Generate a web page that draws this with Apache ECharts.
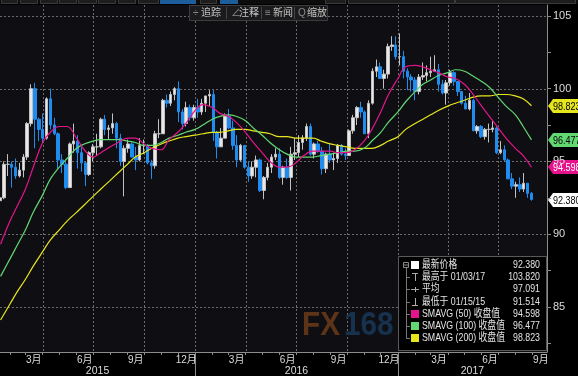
<!DOCTYPE html>
<html>
<head>
<meta charset="utf-8">
<title>美元指数</title>
<script src="https://cdn.jsdelivr.net/npm/echarts@6.0.0/dist/echarts.min.js"></script>
<style>
	html, body { margin: 0; padding: 0; background: #000; }
	#ct1 { width: 578px; height: 376px; }
</style>
</head>
<body>
<div id="ct1"></div>
<script>
// weekly bars, first one is the week of 2015-01-14 (wednesday)
var weekStart = '2015-01-14';
var weekOpen = [92.3,92.5,94.8,94.8,94.6,94.0,94.4,95.3,97.6,100.0,
	97.9,97.2,96.6,99.3,97.5,96.9,95.1,94.8,93.2,96.2,
	96.4,95.6,94.9,94.1,95.6,96.0,96.0,97.9,97.2,97.3,
	97.6,96.6,95.0,95.9,96.2,95.3,95.1,96.1,96.1,94.9,
	94.7,96.9,96.9,99.2,99.0,99.6,100.0,98.4,97.6,98.7,
	98.0,98.7,98.4,99.0,99.5,99.6,97.0,96.0,96.6,98.1,
	97.3,96.1,95.1,96.1,94.6,94.0,94.6,95.1,93.0,93.9,
	94.6,95.3,95.5,93.9,94.6,93.9,95.5,95.6,96.3,96.6,
	97.4,95.5,96.2,95.7,94.5,95.5,95.1,95.2,96.1,95.5,
	95.4,97.1,98.0,98.7,98.4,96.9,99.0,101.2,101.5,100.7,
	101.0,102.9,103.0,102.2,102.2,101.2,100.8,100.6,99.8,100.8,
	100.9,101.1,101.2,101.3,100.3,99.7,100.4,101.1,100.5,99.8,
	99.0,98.6,99.2,97.1,97.4,96.7,97.2,97.2,97.3,95.6,
	95.8,95.1,93.8,93.3,93.4,93.1,93.5,92.8];
var weekClose = [92.5,94.8,94.8,94.6,94.0,94.4,95.3,97.6,100.0,97.9,
	97.2,96.6,99.3,97.5,96.9,95.1,94.8,93.2,96.2,96.4,
	95.6,94.9,94.1,95.6,96.0,96.0,97.9,97.2,97.3,97.6,
	96.6,95.0,95.9,96.2,95.3,95.1,96.1,96.1,94.9,94.7,
	96.9,96.9,99.2,99.0,99.6,100.0,98.4,97.6,98.7,98.0,
	98.7,98.4,99.0,99.5,99.6,97.0,96.0,96.6,98.1,97.3,
	96.1,95.1,96.1,94.6,94.0,94.6,95.1,93.0,93.9,94.6,
	95.3,95.5,93.9,94.6,93.9,95.5,95.6,96.3,96.6,97.4,
	95.5,96.2,95.7,94.5,95.5,95.1,95.2,96.1,95.5,95.4,
	97.1,98.0,98.7,98.4,96.9,99.0,101.2,101.5,100.7,101.0,
	102.9,103.0,102.2,102.2,101.2,100.8,100.6,99.8,100.8,100.9,
	101.1,101.2,101.3,100.3,99.7,100.4,101.1,100.5,99.8,99.0,
	98.6,99.2,97.1,97.4,96.7,97.2,97.2,97.3,95.6,95.8,
	95.1,93.8,93.3,93.4,93.1,93.5,92.8,92.38];
var weekLow = [91.5,92.4,94.0,93.2,93.8,93.9,93.9,95.1,97.4,95.9,
	96.4,96.3,96.5,97.2,96.8,94.5,94.2,93.1,93.2,95.6,
	94.5,94.3,93.3,94.0,95.0,95.4,95.9,96.8,96.5,96.9,
	95.9,94.7,92.6,95.6,95.3,94.4,95.0,95.5,94.8,93.8,
	94.5,96.6,96.9,98.7,98.8,99.2,97.7,97.2,97.4,97.8,
	97.8,98.0,98.2,98.4,98.8,96.4,95.2,96.0,96.6,97.2,
	95.8,94.6,95.0,94.5,93.6,93.8,93.9,92.9,92.4,93.7,
	94.2,95.1,93.8,93.4,93.8,93.0,95.1,95.3,95.8,96.4,
	95.4,95.2,95.6,94.1,94.2,94.9,94.4,94.9,95.4,95.1,
	95.4,96.9,97.5,98.0,96.9,96.6,98.9,100.8,100.7,100.0,
	100.7,102.6,102.0,101.6,100.7,99.9,99.8,99.2,99.6,100.6,
	100.5,100.8,101.2,99.8,99.6,98.9,100.2,100.2,99.5,98.9,
	98.6,98.5,97.1,96.9,96.6,96.5,96.3,97.0,95.5,95.5,
	95.0,93.8,93.1,92.5,92.9,92.9,92.5,92.3];
var weekHigh = [92.9,95.0,95.5,95.0,95.2,94.9,95.5,97.7,100.3,100.4,
	98.0,98.3,99.4,100.0,98.0,97.0,95.5,95.0,96.3,97.6,
	96.8,96.0,95.0,95.7,96.2,96.9,98.0,98.2,97.5,98.3,
	97.7,96.9,96.1,96.5,96.3,96.0,96.6,96.5,96.2,95.1,
	97.1,97.9,99.3,99.6,99.8,100.1,100.5,98.6,99.1,98.9,
	98.9,99.3,99.3,99.5,99.9,99.9,97.1,97.3,98.3,98.6,
	97.8,96.8,96.2,96.0,95.0,95.0,95.4,95.2,94.0,94.9,
	95.5,95.9,95.9,94.7,95.2,96.0,96.6,96.8,96.8,97.6,
	97.6,96.3,96.4,96.0,95.6,96.2,95.6,96.2,96.2,95.9,
	97.2,98.2,98.8,99.1,98.5,99.2,101.4,102.0,101.8,101.3,
	103.1,103.6,103.6,103.8,102.6,101.4,101.0,100.8,101.0,101.8,
	101.6,102.2,102.3,101.7,100.6,100.6,101.3,101.2,100.5,99.8,
	99.5,99.7,99.3,97.5,97.5,97.3,97.6,97.8,97.4,96.4,
	96.1,95.2,94.2,93.6,93.9,94.2,93.5,92.9];

// moving averages, twice a month
var maDates = ['2015-01-15','2015-02-01','2015-02-15','2015-03-01','2015-03-15','2015-04-01','2015-04-15','2015-05-01','2015-05-15','2015-06-01','2015-06-15','2015-07-01','2015-07-15','2015-08-01','2015-08-15','2015-09-01','2015-09-15','2015-10-01','2015-10-15','2015-11-01','2015-11-15','2015-12-01','2015-12-15',
	'2016-01-01','2016-01-15','2016-02-01','2016-02-15','2016-03-01','2016-03-15','2016-04-01','2016-04-15','2016-05-01','2016-05-15','2016-06-01','2016-06-15','2016-07-01','2016-07-15','2016-08-01','2016-08-15','2016-09-01','2016-09-15','2016-10-01','2016-10-15','2016-11-01','2016-11-15','2016-12-01','2016-12-15',
	'2017-01-01','2017-01-15','2017-02-01','2017-02-15','2017-03-01','2017-03-15','2017-04-01','2017-04-15','2017-05-01','2017-05-15','2017-06-01','2017-06-15','2017-07-01','2017-07-15','2017-08-01','2017-08-15','2017-08-30'];
var sma50 = [89.3,90.9,92.0,93.1,94.6,96.3,97.0,97.4,97.4,96.6,95.8,95.3,95.6,96.0,96.3,96.6,96.6,96.2,95.9,95.8,96.5,97.0,97.6,
	98.5,98.9,98.7,98.3,98.1,97.7,97.0,96.3,95.6,95.0,94.6,94.6,94.9,95.4,95.7,95.7,95.7,95.6,95.6,95.8,96.4,97.2,98.4,99.6,
	100.7,101.5,101.6,101.5,101.3,101.1,100.8,100.7,100.3,99.7,98.8,98.1,97.3,96.6,95.9,95.4,94.598];
var sma100 = [87.1,88.3,89.3,90.3,91.5,92.7,93.8,94.6,95.2,95.9,96.2,96.4,96.5,96.5,96.5,96.4,96.3,96.1,96.1,96.3,96.6,96.8,97.0,
	97.2,97.5,97.9,98.1,98.2,98.1,97.8,97.3,96.8,96.3,95.8,95.5,95.3,95.3,95.3,95.4,95.5,95.6,95.7,95.7,95.9,96.4,97.0,97.7,
	98.4,99.1,99.8,100.3,100.6,100.9,101.1,101.3,101.2,100.9,100.5,100.1,99.4,98.8,98.2,97.4,96.477];
var sma200 = [84.1,85.2,86.1,86.9,87.8,88.8,89.6,90.3,90.9,91.5,92.0,92.6,93.1,93.7,94.2,94.8,95.3,95.6,95.9,96.2,96.4,96.6,96.7,
	96.8,96.9,97.0,97.0,97.1,97.2,97.2,97.1,97.0,96.9,96.7,96.7,96.6,96.6,96.6,96.4,96.2,96.1,96.0,95.9,95.9,95.9,96.1,96.4,
	96.7,97.2,97.6,97.9,98.2,98.5,98.8,99.0,99.2,99.4,99.5,99.5,99.6,99.6,99.5,99.3,98.823];

var statHigh = 103.82, statHighDate = '01/03/17';
var statAvg = 97.091;
var statLow = 91.514, statLowDate = '01/15/15';

var yLabels = [85, 90, 95, 100, 105];
var yTicks = [82.5, 85, 87.5, 90, 92.5, 95, 97.5, 100, 102.5, 105];
var axisMin = '2015-01-14', axisMax = '2017-09-27';
var yMin = 81.9, yMax = 105.75;

var colUp = '#e8e8e8', colDown = '#1f8cf0';
var col50 = '#e5148c', col100 = '#62d872', col200 = '#e6e61e';
var numFont = "'Liberation Sans Narrow', 'Liberation Sans', 'Noto Sans CJK SC', sans-serif";
var cjkFont = numFont;

var myChart1;

function dayOf(y, m, d) {
	return new Date(y, m, d).getTime();
}
function parseDay(s) {
	var p = s.split('-');
	return dayOf(+p[0], +p[1] - 1, +p[2]);
}
function candleData() {
	var p = weekStart.split('-');
	var out = [];
	for (var i = 0; i < weekClose.length; i++) {
		var t = dayOf(+p[0], +p[1] - 1, +p[2] + 7 * i);
		out.push([t, weekOpen[i], weekClose[i], weekLow[i], weekHigh[i]]);
	}
	return out;
}
function maData(arr) {
	var out = [];
	for (var i = 0; i < arr.length; i++) {
		out.push([parseDay(maDates[i]), arr[i]]);
	}
	return out;
}
function monthTicks() {
	var out = [];
	for (var m = 1; m <= 32; m++) out.push(dayOf(2015, m, 1));
	return out;
}
function quarterLines() {
	var out = [];
	for (var m = 3; m <= 30; m += 3) out.push(dayOf(2015, m, 1));
	return out;
}
function monthLabels() {
	var out = [];
	for (var m = 2; m <= 32; m += 3) out.push(dayOf(2015, m, 16));
	return out;
}
function yearLabels() {
	var a = parseDay(axisMin), b = parseDay(axisMax);
	var y16 = dayOf(2016, 0, 1), y17 = dayOf(2017, 0, 1);
	return [(a + y16) / 2, (y16 + y17) / 2, (y17 + b) / 2];
}

var tagValues = [weekClose[weekClose.length - 1], sma50[sma50.length - 1], sma100[sma100.length - 1], sma200[sma200.length - 1]];
var tagFill = ['#ffffff', col50, col100, col200];
var tagText = ['#000', '#fff', '#000', '#000'];

function txt(x, y, s, opt) {
	opt = opt || {};
	return {
		type: 'text', x: x, y: y, scaleX: opt.scaleX || 0.8,
		style: {text: s, fill: opt.fill || '#e4e4e4', fontSize: opt.fontSize || 11, fontWeight: opt.fontWeight || 'normal',
			fontFamily: cjkFont, align: opt.align || 'left', verticalAlign: 'middle'}
	};
}
function seg(x1, y1, x2, y2, c, dash) {
	return {type: 'line', shape: {x1: x1, y1: y1, x2: x2, y2: y2}, style: {stroke: c || '#aaa', lineWidth: 1, lineDash: dash || null}};
}

function buildGraphic() {
	var g = [];
	// dotted grid, placed through the axis scales
	var rect = myChart1.getModel().getComponent('grid').coordinateSystem.getRect();
	for (var a = 0; a < yLabels.length; a++) {
		var gy = Math.round(myChart1.convertToPixel({yAxisIndex: 0}, yLabels[a])) + 0.5;
		g.push(seg(rect.x, gy, rect.x + rect.width, gy, '#6a6a6a', [2, 2]));
	}
	var q = quarterLines();
	for (var b = 0; b < q.length; b++) {
		var gx = Math.round(myChart1.convertToPixel({xAxisIndex: 0}, q[b])) + 0.5;
		g.push(seg(gx, rect.y, gx, rect.y + rect.height, '#6a6a6a', [2, 2]));
	}

	// top button strip (cut off)
	g.push({type: 'rect', shape: {x: 0, y: 0, width: 578, height: 4}, style: {fill: '#0c0c0c'}});
	var boxes = [[1, 16], [20, 17], [40, 17], [59, 17], [78, 18], [98, 17], [118, 17], [138, 20], [200, 16], [325, 20], [348, 106], [455, 120]];
	for (var i = 0; i < boxes.length; i++) {
		g.push({type: 'rect', shape: {x: boxes[i][0] + 0.5, y: -1, width: boxes[i][1], height: 4.5}, style: {fill: '#1d1d1d', stroke: '#3a3a3a', lineWidth: 1}});
	}
	g.push({type: 'rect', shape: {x: 160, y: 0, width: 36, height: 4}, style: {fill: '#1d5d9b'}});
	g.push({type: 'rect', shape: {x: 220, y: 0, width: 18, height: 4}, style: {fill: '#1d5d9b'}});

	// floating tool bar
	g.push({type: 'rect', shape: {x: 189.5, y: 5.5, width: 138, height: 15}, style: {fill: '#1b1b1d', stroke: '#3c3c3c', lineWidth: 1}});
	var tools = [['追踪', 201, '÷', 193], ['注释', 239, '∠', 231], ['新闻', 273, '≡', 265], ['缩放', 307, 'Q', 298]];
	for (var j = 0; j < tools.length; j++) {
		g.push(txt(tools[j][3], 13, tools[j][2], {fill: '#8a8a8a', fontSize: 10, scaleX: 1}));
		g.push(txt(tools[j][1], 13, tools[j][0], {fill: '#c4c4c4', fontSize: 10, scaleX: 1}));
	}
	var seps = [226, 261, 294];
	for (var s = 0; s < seps.length; s++) {
		g.push(seg(seps[s] + 0.5, 7, seps[s] + 0.5, 19, '#444'));
	}

	// watermark
	g.push(txt(302, 326, 'FX', {fill: '#5e3418', fontSize: 33, fontWeight: 'bold', scaleX: 0.9}));
	g.push(txt(344, 326, '168', {fill: '#17324f', fontSize: 33, fontWeight: 'bold', scaleX: 0.9}));

	// legend box
	g.push({type: 'rect', shape: {x: 398.5, y: 256.5, width: 148, height: 94}, style: {fill: '#000', stroke: '#5a5a5a', lineWidth: 1}});
	var rows = [
		{icon: 'box', color: '#ffffff', text: '最新价格', value: tagValues[0]},
		{icon: 'high', text: '最高于 ' + statHighDate, value: statHigh},
		{icon: 'avg', text: '平均', value: statAvg},
		{icon: 'low', text: '最低于 ' + statLowDate, value: statLow},
		{icon: 'box', color: col50, text: 'SMAVG (50) 收盘值', value: tagValues[1]},
		{icon: 'box', color: col100, text: 'SMAVG (100) 收盘值', value: tagValues[2]},
		{icon: 'box', color: col200, text: 'SMAVG (200) 收盘值', value: tagValues[3]}
	];
	g.push({type: 'rect', shape: {x: 403.5, y: 262.5, width: 5, height: 5}, style: {fill: 'none', stroke: '#888', lineWidth: 1}});
	g.push(seg(404, 265, 408, 265, '#888'));
	g.push(seg(406.5, 268, 406.5, 338.5, '#777'));
	for (var r = 0; r < rows.length; r++) {
		var y = Math.round(265 + r * 12.2);
		var row = rows[r];
		if (r > 0) g.push(seg(406, y + 0.5, 410, y + 0.5, '#777'));
		if (row.icon === 'box') {
			g.push({type: 'rect', shape: {x: 411, y: y - 4, width: 8, height: 8}, style: {fill: row.color}});
		} else if (row.icon === 'high') {
			g.push(seg(412, y - 3.5, 418, y - 3.5));
			g.push(seg(415.5, y - 4, 415.5, y + 4));
		} else if (row.icon === 'avg') {
			g.push(seg(411, y + 0.5, 419, y + 0.5));
			g.push(seg(415.5, y - 2, 415.5, y + 3));
		} else {
			g.push(seg(415.5, y - 4, 415.5, y + 4));
			g.push(seg(412, y + 3.5, 418, y + 3.5));
		}
		g.push(txt(422, y, row.text));
		g.push(txt(540, y, row.value.toFixed(3), {align: 'right'}));
	}

	// price tags on the right, placed through the y axis scale
	for (var k = 0; k < tagValues.length; k++) {
		var py = Math.round(myChart1.convertToPixel({yAxisIndex: 0}, tagValues[k]));
		g.push({type: 'group', x: 548, y: py, children: [
			{type: 'polygon', shape: {points: [[0, 0], [5, -7], [30, -7], [30, 7], [5, 7]]}, style: {fill: tagFill[k]}},
			txt(5, 0.5, tagValues[k].toFixed(3), {fill: tagText[k], scaleX: 0.82})
		]});
	}
	return g;
}

var option1 = {
	backgroundColor: '#000',
	animation: false,
	grid: {left: 0, right: 31, top: 5, bottom: 24, show: true, backgroundColor: '#0f0f13', borderWidth: 0, containLabel: false, outerBoundsMode: 'none'},
	xAxis: [{
		type: 'value', position: 'bottom', min: parseDay(axisMin), max: parseDay(axisMax),
		axisLine: {show: true, lineStyle: {color: '#8c8c8c', width: 1}},
		axisTick: {show: true, customValues: monthTicks(), length: 3, lineStyle: {color: '#8c8c8c'}},
		axisLabel: {customValues: monthLabels(), color: '#dcdcdc', fontSize: 10, fontFamily: cjkFont, margin: 3,
			formatter: function (v) { return (new Date(v).getMonth() + 1) + '月'; }},
		splitLine: {show: false}
	}, {
		type: 'value', position: 'bottom', min: parseDay(axisMin), max: parseDay(axisMax),
		axisLine: {show: false},
		axisTick: {show: true, customValues: [dayOf(2016, 0, 1), dayOf(2017, 0, 1)], length: 24, lineStyle: {color: '#8c8c8c'}},
		axisLabel: {customValues: yearLabels(), color: '#dcdcdc', fontSize: 10.5, fontFamily: numFont, margin: 14,
			formatter: function (v) { return String(new Date(v).getFullYear()); }},
		splitLine: {show: false}
	}],
	yAxis: [{
		type: 'value', position: 'right', min: yMin, max: yMax,
		axisLine: {show: true, lineStyle: {color: '#8c8c8c', width: 1}},
		axisTick: {show: true, customValues: yTicks, length: 4, lineStyle: {color: '#8c8c8c'}},
		axisLabel: {customValues: yLabels, color: '#dcdcdc', fontSize: 11, fontFamily: numFont, margin: 6},
		splitLine: {show: false}
	}],
	series: [{
		name: '价格', type: 'candlestick', data: candleData(), encode: {x: 0, y: [1, 2, 3, 4]},
		barWidth: 3, z: 3,
		itemStyle: {color: colUp, color0: colDown, borderColor: '#c2c2c2', borderColor0: colDown, borderWidth: 1}
	}, {
		name: 'SMAVG (200)', type: 'line', data: maData(sma200), showSymbol: false, smooth: 0.4, z: 4,
		lineStyle: {color: col200, width: 1.2}
	}, {
		name: 'SMAVG (100)', type: 'line', data: maData(sma100), showSymbol: false, smooth: 0.4, z: 4,
		lineStyle: {color: col100, width: 1.2}
	}, {
		name: 'SMAVG (50)', type: 'line', data: maData(sma50), showSymbol: false, smooth: 0.4, z: 4,
		lineStyle: {color: col50, width: 1.2}
	}]
};

function initMyChar1() {
	if (myChart1 && myChart1.dispose) {
		myChart1.dispose();
	}
	myChart1 = echarts.init(document.getElementById('ct1'));
	myChart1.setOption(option1, true);
	var g = buildGraphic();
	// grid lines go under the bars, the rest on top
	for (var i = 0; i < g.length; i++) {
		g[i].z = i < 15 ? 1 : 10;
	}
	myChart1.setOption({graphic: {elements: g}});
}
initMyChar1();
</script>
</body>
</html>
